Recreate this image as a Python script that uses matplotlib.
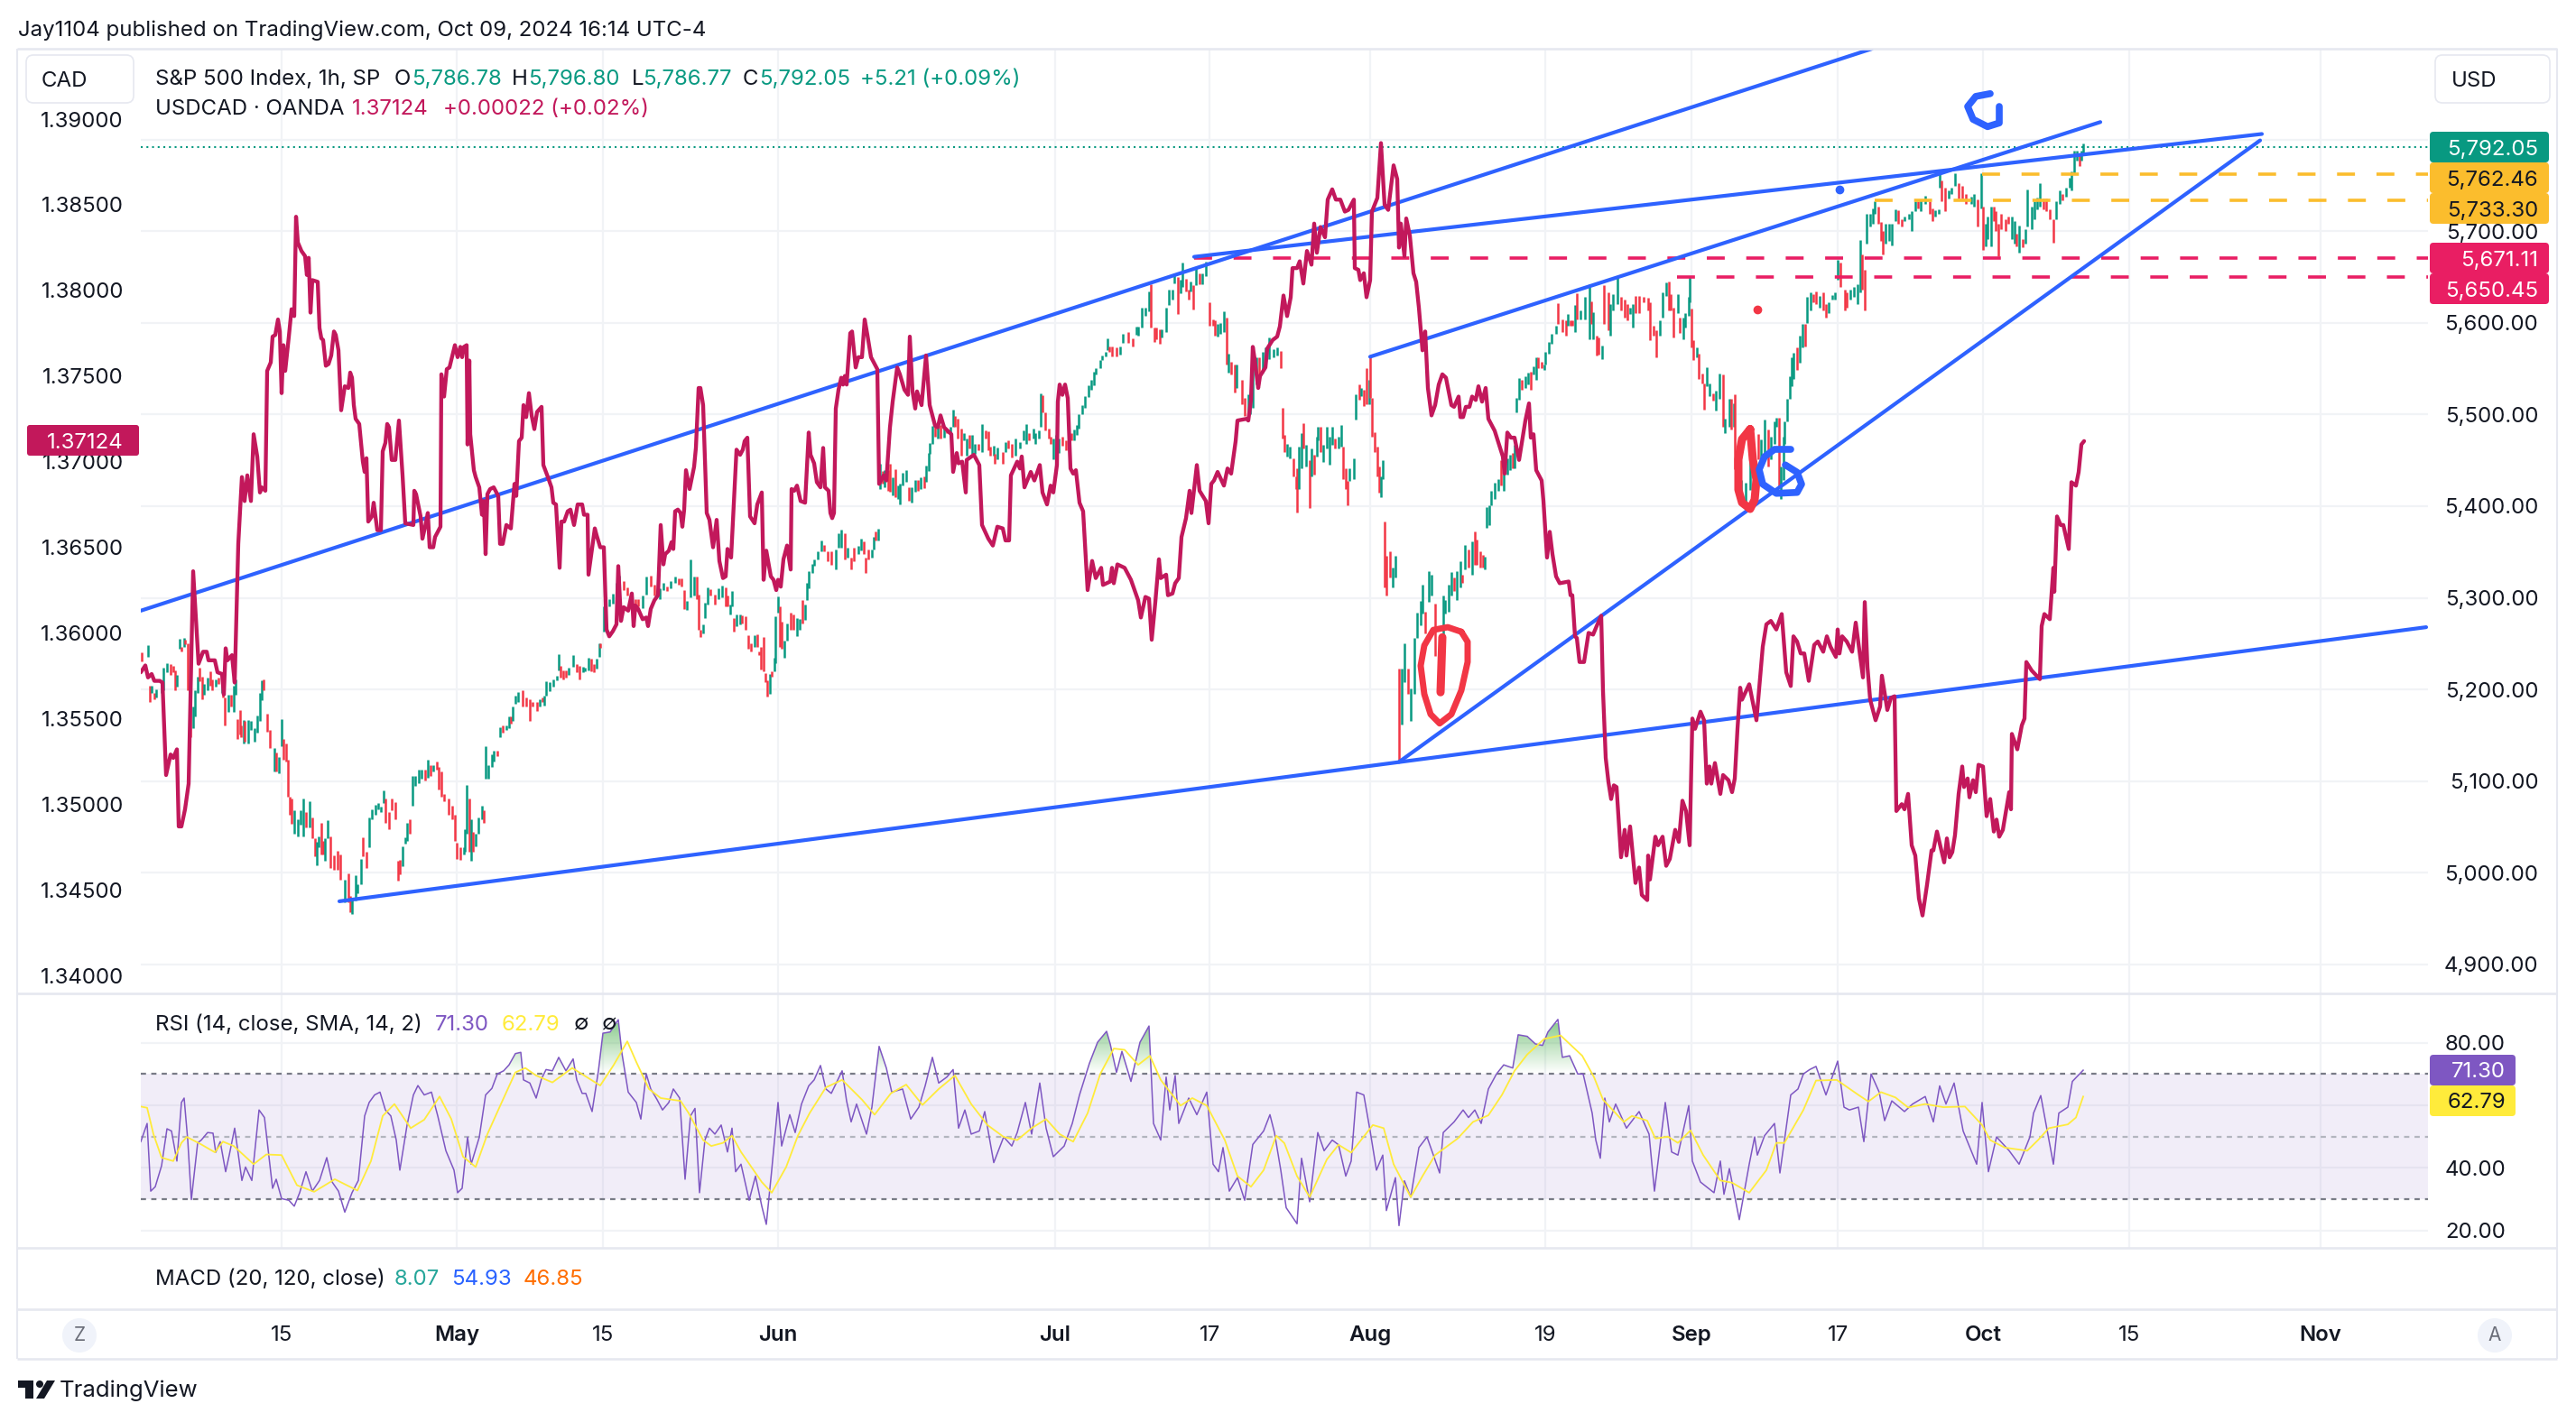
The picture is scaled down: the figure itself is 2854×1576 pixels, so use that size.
import numpy as np
import matplotlib
matplotlib.use("Agg")
import matplotlib.pyplot as plt
from matplotlib.colors import LinearSegmentedColormap
from matplotlib.patches import FancyBboxPatch, Rectangle, Polygon, Circle
from matplotlib.path import Path

plt.rcParams['font.family'] = ['Inter', 'DejaVu Sans']

W, H, DPI = 2854, 1576, 100

# ---------------- time scale: slots along the shared time axis ----------------
tick_slots = [312, 506, 668, 862, 1169, 1340, 1518, 1712, 1874, 2036, 2197, 2359, 2571]
tick_labels = ["15", "May", "15", "Jun", "Jul", "17", "Aug", "19", "Sep", "17", "Oct", "15", "Nov"]
month_labels = {"May", "Jun", "Jul", "Aug", "Sep", "Oct", "Nov"}

usd_ticks = [5800, 5700, 5600, 5500, 5400, 5300, 5200, 5100, 5000, 4900]
cad_ticks = [1.39, 1.385, 1.38, 1.375, 1.37, 1.365, 1.36, 1.355, 1.35, 1.345, 1.34]
rsi_grid = [80, 60, 40, 20]
rsi_labelled = [80, 40, 20]

# ---------------- S&P 500 candles (high, low, direction) ----------------
sp_slot = [
157,164,166,168,171,173,179,181,185,189,
192,194,196,199,201,204,205,208,211,214,
216,219,221,224,226,230,233,235,239,242,
246,247,249,253,256,259,261,263,266,267,
270,271,275,278,282,285,288,290,292,296,
299,304,306,309,312,314,317,319,321,323,
326,330,333,336,339,343,346,349,351,353,
356,358,360,363,366,370,374,377,382,386,
388,390,394,396,400,402,406,409,412,416,
419,422,425,427,431,434,438,441,443,446,
449,451,454,457,460,464,467,471,474,477,
480,484,486,489,492,497,501,504,506,510,
514,515,517,520,522,524,527,530,534,536,
538,541,545,547,551,554,557,561,564,566,
568,571,574,579,583,587,590,595,598,601,
603,605,609,613,617,619,621,624,627,630,
635,639,642,646,648,652,655,658,661,664,
665,669,671,675,679,683,686,691,695,699,
704,707,712,716,721,725,729,731,735,739,
743,748,752,755,758,761,765,769,772,774,
776,779,781,784,787,792,796,800,804,806,
809,811,813,816,820,822,826,829,832,836,
839,841,843,846,848,850,853,855,858,859,
862,864,866,869,872,876,879,883,886,889,
892,894,896,900,902,906,910,913,917,921,
926,929,932,936,939,943,946,951,954,957,
959,962,966,968,970,973,975,978,980,984,
986,989,992,995,997,1000,1004,1007,1010,1014,
1017,1020,1024,1026,1029,1030,1033,1036,1039,1042,
1046,1049,1053,1056,1058,1061,1065,1068,1071,1074,
1077,1080,1084,1088,1092,1095,1097,1101,1102,1105,
1111,1114,1117,1121,1125,1130,1134,1137,1140,1145,
1147,1151,1153,1155,1158,1162,1164,1167,1170,1173,
1177,1181,1184,1187,1190,1193,1195,1199,1202,1206,
1209,1212,1214,1219,1221,1225,1227,1229,1232,1237,
1241,1244,1250,1255,1259,1261,1265,1269,1273,1275,
1279,1281,1285,1287,1292,1295,1299,1301,1305,1308,
1310,1314,1317,1319,1322,1325,1329,1332,1336,1340,
1344,1346,1349,1352,1356,1359,1361,1364,1368,1370,
1376,1379,1383,1385,1388,1392,1395,1399,1402,1406,
1411,1415,1419,1421,1423,1426,1429,1433,1436,1437,
1439,1442,1444,1447,1451,1453,1456,1459,1460,1463,
1466,1470,1473,1476,1479,1483,1486,1488,1491,1493,
1495,1500,1502,1506,1508,1511,1514,1517,1518,1520,
1523,1526,1528,1530,1532,1534,1536,1540,1543,1546,
1550,1553,1556,1560,1563,1567,1570,1574,1576,1579,
1583,1586,1590,1594,1597,1599,1601,1605,1608,1611,
1614,1618,1620,1623,1627,1631,1634,1636,1640,1643,
1645,1647,1650,1652,1656,1660,1663,1666,1670,1673,
1676,1678,1680,1683,1686,1690,1693,1696,1699,1702,
1704,1708,1711,1712,1716,1719,1724,1726,1731,1735,
1737,1740,1742,1745,1747,1751,1756,1761,1763,1765,
1769,1771,1775,1777,1782,1784,1787,1792,1796,1800,
1803,1806,1809,1812,1816,1821,1826,1828,1832,1835,
1839,1842,1846,1849,1851,1854,1859,1861,1865,1867,
1871,1872,1874,1876,1880,1882,1886,1888,1891,1894,
1898,1901,1905,1909,1911,1916,1918,1921,1922,1926,
1929,1934,1939,1942,1948,1951,1955,1959,1962,1966,
1968,1971,1973,1976,1977,1980,1983,1985,1987,1991,
1994,1997,2000,2002,2006,2009,2012,2016,2020,2023,
2026,2030,2033,2036,2039,2044,2046,2050,2054,2058,
2061,2063,2066,2068,2072,2075,2077,2081,2084,2086,
2089,2093,2096,2100,2103,2107,2110,2115,2118,2122,
2125,2128,2133,2138,2141,2144,2148,2149,2151,2155,
2159,2162,2166,2170,2174,2178,2184,2187,2191,2195,
2197,2200,2202,2206,2209,2211,2214,2217,2222,2225,
2229,2232,2234,2237,2241,2244,2246,2251,2254,2257,
2260,2264,2267,2271,2275,2278,2282,2285,2289,2293,
2295,2298,2301,2304,2306,2308]
sp_high = [
5241,5248,5204,5204,5196,5200,5206,5224,5229,5228,
5226,5221,5216,5255,5246,5256,5254,5250,5199,5181,
5199,5214,5224,5214,5206,5213,5220,5211,5211,5213,
5211,5196,5191,5194,5194,5204,5211,5168,5178,5161,
5167,5166,5167,5166,5158,5172,5196,5210,5211,5174,
5156,5136,5131,5126,5168,5146,5141,5123,5083,5081,
5068,5058,5068,5081,5066,5078,5060,5038,5034,5040,
5055,5035,5038,5057,5040,5019,5024,5020,4993,4999,
4975,4973,4997,4988,5015,5039,5023,5060,5069,5074,
5076,5072,5090,5081,5066,5081,5077,5013,5014,5029,
5039,5055,5058,5106,5106,5113,5113,5113,5123,5118,
5118,5121,5116,5111,5086,5081,5073,5063,5033,5028,
5028,5048,5096,5081,5058,5045,5043,5060,5073,5068,
5138,5118,5129,5133,5133,5159,5161,5161,5171,5171,
5181,5193,5197,5199,5191,5189,5186,5186,5189,5191,
5193,5209,5208,5211,5215,5239,5226,5221,5221,5224,
5238,5228,5226,5225,5224,5235,5234,5228,5234,5250,
5250,5291,5291,5299,5305,5316,5324,5318,5311,5305,
5299,5299,5303,5323,5324,5314,5314,5310,5316,5312,
5318,5323,5321,5321,5308,5297,5342,5323,5323,5304,
5265,5271,5295,5311,5309,5304,5310,5313,5311,5303,
5293,5307,5278,5282,5282,5281,5280,5259,5250,5259,
5260,5242,5246,5257,5218,5210,5217,5220,5235,5280,
5302,5291,5274,5253,5272,5284,5282,5278,5277,5298,
5293,5316,5329,5337,5342,5351,5363,5358,5351,5351,
5353,5370,5374,5370,5355,5344,5355,5357,5365,5362,
5344,5353,5353,5367,5372,5375,5446,5438,5439,5439,
5446,5431,5440,5423,5425,5436,5439,5421,5421,5429,
5429,5431,5432,5444,5458,5469,5488,5487,5487,5489,
5485,5485,5487,5505,5498,5495,5485,5480,5474,5478,
5478,5468,5468,5490,5483,5482,5465,5466,5457,5464,
5459,5470,5472,5468,5474,5470,5483,5490,5480,5485,
5480,5483,5523,5521,5502,5485,5476,5474,5478,5474,
5476,5472,5480,5480,5484,5489,5500,5510,5520,5532,
5538,5547,5551,5559,5564,5568,5583,5574,5574,5573,
5574,5588,5590,5583,5596,5596,5617,5617,5634,5642,
5595,5595,5593,5593,5617,5636,5636,5654,5650,5647,
5666,5648,5636,5645,5641,5660,5654,5654,5667,5622,
5604,5603,5599,5600,5613,5606,5566,5557,5555,5555,
5538,5518,5522,5520,5564,5562,5562,5568,5573,5584,
5571,5573,5569,5507,5478,5468,5465,5452,5432,5441,
5465,5480,5491,5467,5450,5463,5456,5476,5487,5487,
5467,5487,5476,5487,5474,5476,5489,5465,5441,5428,
5441,5452,5522,5533,5529,5527,5551,5538,5564,5518,
5481,5465,5443,5432,5450,5383,5346,5351,5333,5346,
5223,5223,5250,5223,5201,5256,5284,5297,5314,5285,
5329,5325,5294,5234,5257,5303,5298,5314,5328,5322,
5329,5340,5325,5358,5353,5362,5372,5364,5351,5347,
5345,5399,5401,5417,5426,5430,5450,5445,5452,5456,
5458,5467,5518,5540,5538,5542,5546,5547,5553,5562,
5562,5557,5555,5568,5579,5588,5597,5621,5604,5603,
5610,5603,5603,5619,5632,5614,5628,5642,5623,5612,
5586,5584,5575,5641,5633,5620,5631,5650,5628,5625,
5620,5617,5620,5629,5629,5628,5627,5622,5597,5592,
5603,5633,5644,5645,5631,5617,5631,5606,5606,5611,
5628,5650,5616,5581,5573,5566,5545,5534,5552,5534,
5523,5526,5545,5544,5495,5517,5517,5512,5522,5462,
5429,5426,5457,5476,5479,5473,5494,5484,5476,5493,
5496,5496,5443,5476,5493,5517,5542,5562,5567,5573,
5586,5599,5599,5628,5633,5631,5634,5629,5633,5620,
5622,5630,5633,5669,5666,5636,5633,5636,5639,5642,
5690,5675,5658,5719,5719,5725,5733,5727,5710,5700,
5708,5708,5708,5724,5723,5713,5716,5719,5722,5733,
5733,5735,5739,5733,5725,5723,5724,5765,5755,5747,
5744,5747,5763,5752,5749,5741,5738,5741,5735,5763,
5727,5708,5716,5727,5727,5722,5708,5719,5713,5716,
5716,5711,5697,5706,5691,5702,5745,5727,5733,5737,
5752,5736,5736,5724,5713,5733,5744,5741,5747,5758,
5765,5788,5788,5784,5788,5796]
sp_low = [
5231,5236,5186,5196,5189,5191,5196,5199,5219,5216,
5219,5199,5203,5244,5242,5246,5249,5199,5148,5158,
5171,5196,5209,5189,5194,5199,5204,5199,5203,5206,
5196,5191,5161,5176,5181,5176,5194,5146,5151,5148,
5141,5143,5141,5156,5143,5153,5166,5188,5199,5154,
5136,5111,5111,5109,5138,5123,5121,5083,5063,5054,
5043,5040,5053,5040,5050,5050,5038,5018,5008,5028,
5020,5020,5013,5038,5005,5003,5003,4993,4968,4968,
4957,4955,4970,4978,4988,5018,5005,5028,5058,5063,
5069,5066,5076,5055,5048,5068,5058,4992,4998,5007,
5032,5035,5043,5073,5095,5098,5103,5101,5104,5106,
5111,5113,5091,5083,5078,5063,5058,5035,5015,5014,
5020,5023,5043,5023,5013,5023,5029,5043,5058,5055,
5103,5103,5116,5121,5127,5148,5153,5156,5158,5163,
5166,5184,5186,5181,5181,5166,5181,5177,5181,5186,
5182,5193,5198,5203,5210,5221,5213,5211,5213,5216,
5225,5219,5211,5219,5220,5221,5220,5219,5223,5236,
5245,5263,5274,5291,5294,5304,5304,5308,5303,5288,
5286,5291,5289,5304,5312,5303,5308,5299,5308,5307,
5310,5316,5314,5312,5288,5287,5301,5303,5299,5265,
5257,5261,5278,5293,5303,5293,5299,5301,5291,5291,
5282,5291,5263,5269,5271,5272,5265,5244,5242,5246,
5246,5238,5222,5220,5208,5192,5195,5214,5220,5229,
5284,5246,5244,5235,5253,5265,5265,5258,5265,5272,
5276,5298,5310,5327,5335,5342,5351,5351,5340,5336,
5331,5355,5355,5342,5344,5331,5340,5348,5352,5348,
5327,5342,5344,5353,5363,5363,5419,5425,5421,5417,
5416,5412,5410,5408,5402,5423,5427,5406,5404,5416,
5417,5419,5420,5427,5438,5457,5468,5476,5474,5474,
5475,5480,5480,5487,5487,5474,5455,5472,5455,5463,
5457,5457,5461,5459,5474,5461,5455,5455,5446,5451,
5446,5459,5463,5453,5455,5463,5472,5468,5472,5474,
5468,5474,5487,5502,5483,5474,5468,5451,5448,5458,
5466,5461,5463,5472,5472,5478,5485,5500,5507,5519,
5527,5532,5544,5551,5559,5563,5570,5568,5563,5563,
5565,5578,5578,5574,5587,5586,5595,5608,5613,5595,
5579,5582,5577,5584,5590,5619,5625,5643,5610,5632,
5639,5634,5625,5634,5615,5641,5642,5642,5651,5597,
5597,5586,5585,5588,5590,5555,5546,5544,5524,5529,
5511,5498,5498,5500,5507,5533,5538,5546,5555,5560,
5562,5564,5551,5474,5459,5454,5452,5432,5419,5393,
5419,5441,5463,5443,5398,5432,5434,5454,5472,5459,
5448,5463,5445,5467,5463,5463,5465,5430,5419,5401,
5428,5430,5494,5516,5520,5509,5511,5511,5518,5476,
5459,5432,5415,5410,5430,5311,5303,5322,5311,5322,
5122,5162,5208,5195,5166,5195,5256,5270,5283,5261,
5296,5303,5237,5210,5195,5248,5283,5285,5303,5307,
5298,5311,5316,5331,5333,5325,5336,5336,5333,5333,
5331,5376,5379,5401,5408,5417,5423,5417,5434,5439,
5441,5441,5502,5516,5527,5529,5533,5527,5544,5538,
5551,5551,5549,5555,5566,5577,5588,5599,5590,5586,
5597,5597,5597,5590,5604,5604,5604,5582,5599,5582,
5564,5565,5560,5599,5592,5586,5614,5620,5614,5606,
5603,5610,5595,5611,5611,5622,5614,5581,5586,5562,
5586,5606,5629,5614,5614,5584,5611,5589,5582,5595,
5608,5622,5573,5559,5562,5539,5534,5505,5531,5520,
5515,5504,5517,5487,5480,5487,5484,5487,5440,5418,
5404,5404,5418,5446,5451,5451,5457,5443,5451,5468,
5487,5421,5408,5429,5468,5493,5517,5531,5539,5549,
5556,5573,5574,5600,5614,5622,5620,5617,5614,5606,
5611,5625,5625,5647,5639,5614,5617,5625,5628,5620,
5633,5636,5614,5686,5705,5708,5719,5708,5689,5675,
5686,5689,5684,5711,5708,5705,5711,5713,5700,5722,
5725,5722,5730,5719,5711,5716,5719,5747,5733,5722,
5736,5741,5749,5736,5736,5730,5730,5727,5705,5725,
5680,5683,5691,5683,5711,5700,5673,5702,5700,5708,
5691,5686,5683,5677,5682,5686,5705,5702,5713,5724,
5727,5724,5722,5713,5687,5713,5730,5734,5738,5747,
5744,5763,5777,5771,5777,5783]
sp_dir = ("RGRGRGGGGR RRGGRGRRRG GGRRGGRRGR GRRGRGGRRR GRGGGGGGRR RGRGGRRRRR GGGGRGRRGG "
          "RRGGRRRRGR RGGGGRRGGG GGGRRRRRRG GGRGGGGRGR GRRRRRRRRR GGGRGRGGGR GGGGRGRGGR "
          "GGGRRRRRGR GGGGGGRRRG GRRGGGRRGG RGGGGGGRRR RRGGRRGGGR GGRRRGGGRR RGGGRRGGRR "
          "GGRGGRRRRG RRRRRRGRGG GRRGGRRGGR GGGGGGGRRR GGGRGRRGGR RRGGRGGRGR RGRGGGGRGG "
          "RGRGGGGRGR GRGGRRRGGR GGRGRRRGRG RGRRGGGGRG GGGRRRRGGG RRGRGGGGGG GGGGGGGRRR "
          "GGRRGGGGGR RRRGGGGGRG GRRGRGRGGR RRGGGRGRRG RRGGGGRGGG GGRRRGGRRR GGRGRGRGGR "
          "GGGGRGGRRR GGGRGRRGRR RRRGGRRRGG RGGRGGGGGR GGRGRGGGGR GGRGRGRRRR GGGGGGRGGG "
          "RGGGRGGRGG RRGGGGGRRR GRRGRGGGRG RRGRRGGGRR RGGRRRRRRR GGGRRRGRGG GGRRGRRRGG "
          "RGGRGGRGRR GGGGRGGRGG GRGGGGGGGR GGRGGRRGRR GGGGRRRGGG GRRGGGGRRR GGGGRRGGGG "
          "RGGRRGGGRR GGGRRRGGRG RGGGRRRRRR GGRGRGGGGG GRRRRGGRGG GGGRGG").replace(" ", "")

# ---------------- USD/CAD close, in pips (1/10000 of a CAD) ----------------
usdcad_slot = [
156,161,164,168,171,177,180,184,189,192,196,198,201,205,209,214,220,225,229,231,238,241,246,248,250,252,257,260,264,268,
271,274,278,281,285,288,290,294,296,300,302,305,308,310,312,314,316,320,323,326,328,330,334,338,340,342,344,346,352,354,
356,358,361,364,367,370,372,375,378,382,386,388,390,392,394,398,402,404,406,408,412,414,418,422,424,427,429,431,434,438,
442,446,449,458,459,461,466,468,471,474,476,480,482,488,489,492,495,498,504,507,510,512,514,517,518,520,521,525,527,531,
534,536,538,540,543,547,552,554,557,561,566,569,570,572,575,578,580,583,586,589,592,595,600,602,607,611,613,616,620,622,
625,629,632,636,640,645,647,651,652,659,661,665,669,672,675,679,683,685,688,691,696,700,702,704,707,712,716,718,721,725,
729,732,735,737,741,744,746,748,751,754,756,758,760,764,769,771,774,776,779,783,786,790,794,797,801,804,806,810,816,820,
823,825,828,831,836,839,844,846,849,854,857,860,862,865,868,872,876,877,880,883,887,892,896,898,902,905,909,912,914,918,
920,922,924,926,929,932,934,936,938,942,944,948,951,955,958,961,965,968,972,974,979,982,986,989,994,997,1002,1006,1008,1011,
1014,1016,1021,1026,1030,1036,1039,1042,1046,1054,1056,1060,1062,1066,1070,1071,1079,1085,1088,1095,1100,1105,1111,1114,1118,1120,1127,1130,1132,1135,
1142,1146,1152,1155,1160,1164,1167,1171,1172,1174,1177,1180,1183,1186,1189,1192,1196,1200,1203,1205,1210,1214,1220,1222,1230,1232,1234,1238,1246,1253,
1261,1264,1269,1273,1276,1280,1284,1286,1292,1294,1299,1302,1306,1309,1314,1318,1320,1326,1329,1336,1339,1342,1345,1349,1356,1360,1364,1369,1371,1381,
1383,1386,1388,1390,1394,1396,1402,1404,1410,1415,1418,1422,1426,1430,1432,1437,1440,1444,1448,1453,1456,1459,1463,1468,1471,1476,1480,1485,1490,1494,
1500,1501,1505,1507,1511,1514,1518,1520,1526,1530,1534,1538,1544,1548,1550,1552,1556,1558,1562,1566,1569,1572,1576,1579,1582,1586,1590,1594,1598,1602,
1608,1611,1616,1618,1621,1624,1628,1631,1635,1638,1642,1646,1649,1656,1665,1667,1670,1674,1678,1683,1690,1694,1696,1699,1702,1708,1710,1714,1717,1720,
1724,1728,1738,1740,1742,1745,1747,1750,1755,1760,1765,1769,1774,1776,1779,1782,1785,1788,1791,1796,1800,1802,1806,1812,1816,1819,1825,1826,1828,1834,
1837,1842,1846,1850,1856,1860,1864,1868,1872,1875,1878,1884,1888,1891,1894,1896,1900,1906,1909,1915,1919,1922,1925,1928,1930,1938,1941,1946,1953,1957,
1962,1968,1974,1979,1984,1987,1991,1995,1999,2004,2010,2014,2020,2024,2028,2034,2036,2038,2041,2046,2052,2056,2060,2064,2066,2069,2072,2078,2083,2085,
2091,2095,2099,2101,2107,2110,2114,2118,2122,2126,2130,2135,2140,2142,2146,2154,2157,2160,2163,2166,2170,2174,2176,2180,2182,2186,2189,2192,2197,2201,
2205,2209,2212,2215,2219,2226,2228,2229,2235,2240,2243,2245,2251,2260,2262,2265,2271,2275,2276,2279,2283,2286,2292,2295,2300,2303,2306,2309]
usdcad_pips = [
13577,13581,13574,13576,13572,13572,13571,13517,13529,13527,13532,13487,13487,13497,13512,13636,13582,13589,13589,13584,13584,13577,13576,13564,13591,13584,13587,13571,13652,13691,
13677,13692,13677,13716,13703,13682,13685,13683,13753,13758,13773,13774,13783,13776,13740,13768,13753,13773,13789,13785,13843,13828,13823,13820,13809,13819,13787,13806,13805,13778,
13772,13771,13756,13757,13762,13776,13774,13765,13730,13744,13743,13752,13749,13733,13725,13722,13700,13694,13702,13665,13668,13676,13660,13660,13706,13711,13722,13720,13701,13701,
13724,13692,13664,13663,13683,13681,13668,13655,13662,13670,13650,13650,13656,13662,13751,13738,13754,13755,13768,13761,13767,13761,13767,13768,13710,13759,13716,13695,13691,13685,
13669,13677,13646,13681,13684,13685,13680,13652,13652,13663,13661,13681,13687,13680,13712,13714,13733,13726,13740,13727,13719,13729,13732,13698,13691,13685,13676,13675,13638,13665,
13665,13671,13672,13663,13675,13675,13669,13669,13634,13661,13657,13650,13650,13602,13598,13601,13605,13639,13607,13615,13613,13623,13604,13616,13614,13608,13609,13604,13614,13619,
13622,13663,13640,13646,13648,13653,13649,13671,13672,13670,13662,13672,13695,13684,13697,13708,13743,13743,13733,13670,13666,13650,13666,13642,13632,13633,13649,13644,13707,13704,
13707,13712,13714,13668,13664,13675,13682,13631,13648,13633,13631,13625,13631,13627,13643,13651,13637,13684,13683,13686,13677,13676,13717,13704,13699,13688,13685,13708,13685,13683,
13670,13667,13670,13731,13742,13749,13745,13750,13745,13775,13776,13755,13761,13761,13783,13774,13761,13758,13754,13687,13692,13689,13720,13735,13755,13751,13742,13739,13773,13741,
13731,13741,13733,13762,13733,13721,13720,13727,13720,13716,13694,13705,13699,13700,13682,13701,13704,13698,13663,13655,13651,13662,13661,13654,13654,13692,13700,13696,13703,13685,
13694,13689,13698,13682,13675,13686,13682,13698,13735,13745,13739,13745,13737,13696,13693,13695,13676,13671,13644,13625,13642,13632,13638,13628,13630,13638,13629,13640,13638,13631,
13619,13609,13621,13620,13596,13618,13643,13632,13634,13622,13623,13629,13632,13656,13667,13683,13670,13698,13683,13677,13664,13687,13689,13694,13686,13696,13693,13712,13724,13725,
13724,13736,13767,13760,13743,13750,13755,13766,13771,13773,13779,13797,13785,13796,13813,13813,13817,13804,13823,13815,13839,13822,13837,13831,13853,13859,13853,13853,13846,13847,
13853,13813,13812,13806,13810,13796,13806,13846,13854,13886,13850,13847,13873,13865,13825,13839,13820,13842,13832,13810,13805,13790,13765,13776,13743,13727,13733,13745,13751,13749,
13733,13732,13738,13726,13726,13732,13732,13738,13736,13744,13735,13743,13725,13718,13703,13693,13717,13714,13714,13701,13724,13734,13714,13716,13695,13689,13677,13644,13659,13646,
13633,13629,13630,13622,13622,13598,13597,13583,13583,13600,13599,13604,13610,13566,13527,13513,13503,13511,13510,13469,13485,13470,13487,13454,13463,13447,13444,13470,13456,13481,
13476,13481,13464,13468,13485,13478,13502,13496,13476,13550,13544,13554,13549,13512,13522,13512,13524,13506,13517,13514,13507,13515,13544,13568,13561,13570,13562,13549,13592,13605,
13607,13602,13611,13577,13569,13598,13595,13588,13588,13572,13593,13595,13589,13598,13592,13586,13602,13588,13598,13595,13589,13606,13590,13574,13618,13580,13561,13549,13557,13575,
13555,13562,13563,13496,13500,13497,13506,13476,13470,13445,13435,13453,13473,13473,13484,13466,13480,13469,13472,13482,13506,13522,13510,13515,13504,13514,13507,13523,13522,13493,
13503,13484,13491,13481,13485,13507,13497,13541,13532,13546,13550,13583,13578,13573,13604,13611,13608,13638,13624,13668,13663,13663,13649,13688,13686,13694,13710,13712]

# ---------------- RSI(14) and its 14-period SMA ----------------
rsi_slot = [
156,163,167,172,179,185,190,196,201,204,208,212,219,223,230,236,239,244,250,254,260,268,272,279,287,293,302,306,312,320,
326,332,339,346,354,362,368,375,382,390,397,404,409,415,421,427,433,439,443,451,458,463,470,478,485,494,503,507,512,518,
522,531,538,545,551,558,564,571,577,580,587,594,600,605,612,619,627,635,639,645,649,656,663,668,676,685,689,696,705,710,
716,721,728,734,741,746,753,759,765,770,775,781,786,792,799,806,811,815,821,830,837,844,849,855,862,866,875,881,888,896,
902,909,915,921,933,938,943,949,960,966,974,982,988,1000,1009,1018,1025,1033,1040,1049,1056,1062,1069,1076,1085,1091,1101,1112,1121,1127,
1136,1143,1152,1159,1167,1179,1188,1196,1207,1216,1226,1230,1237,1243,1253,1263,1273,1278,1286,1292,1296,1302,1306,1317,1326,1337,1344,1350,1355,1362,
1371,1379,1388,1400,1407,1412,1419,1425,1437,1442,1451,1460,1467,1476,1483,1491,1497,1503,1511,1518,1525,1532,1536,1546,1550,1556,1563,1572,1581,1595,
1599,1611,1621,1627,1634,1641,1649,1658,1666,1676,1682,1692,1701,1709,1715,1726,1731,1739,1748,1754,1764,1768,1773,1778,1783,1790,1802,1816,1827,1833,
1845,1852,1859,1871,1875,1884,1899,1906,1910,1916,1927,1938,1944,1947,1955,1966,1972,1984,1992,1998,2005,2012,2023,2036,2043,2049,2059,2065,2073,2082,
2088,2096,2110,2119,2133,2142,2149,2156,2165,2175,2190,2196,2203,2212,2226,2237,2249,2253,2261,2267,2275,2281,2291,2296,2308]
rsi_values = [
48.4,54.2,32.6,34,40.7,52.5,51.8,42.2,60.9,62.3,48.9,29.9,48,48.9,51.3,51.1,45,48.4,38.8,44.1,52.7,36,40.3,36,58.5,56.1,33.5,36.4,30.2,29.7,
27.8,32.1,38.8,32.6,36,43.3,35.5,32.6,25.9,32.1,36,56.6,60.9,63.3,64.2,58.5,56.6,48.9,39.3,53.7,63.3,66.3,63.3,64.2,56.6,45.5,39.3,32.1,33.5,49.8,
41.2,49.8,63.3,65.4,70,71,72.9,76.5,76.9,68.1,67.1,62.3,68.5,71.4,71,75.3,71,74.8,68.1,63.8,63.8,58,71,83,83.4,87.3,76.7,64.2,60.9,55.6,
70,65.2,61.8,58.5,60.9,65.2,62.3,36.4,56.6,59,32.1,48.9,52.7,50.8,53.7,45.1,52.7,38.8,41.2,29.7,37.4,27.8,22,39.3,60.9,47,57,51.3,60.4,66.2,
68.1,72.7,65.2,63.8,71,61.3,54.7,60.4,50.8,59.4,78.8,71.9,64.2,65.2,55.6,59.4,66.2,75.3,67.1,69,71.4,52.7,58.5,50.8,51.8,58,41.7,49.9,47,51.3,
60.9,50.8,67.1,52.7,43.6,47,54.2,63.3,73.4,80.1,83.6,79.6,70.5,77.2,67.6,80.1,85.3,54.2,48.9,69,58.5,69.5,54.2,62.3,57,64.2,41.2,38.8,46.5,32.6,
36.9,29.7,47.5,51.8,57,51.3,39.3,27.3,22.2,43.1,29.2,51.3,45.5,48.9,47.4,37.4,42.2,64.2,63.3,51.8,39.3,44.1,26.4,36.9,21.6,35.9,30.7,46.5,49.9,38.4,
51.3,54.7,58.5,56.1,58.5,54.2,65.2,70,72.9,71.9,82.5,82,79.6,79.1,83.4,87.4,75.3,75.8,70,70,57.5,48.9,43.1,62.3,54.7,60.4,52.7,58,50.8,32.6,
60.9,45.1,44.1,59.9,42.2,35.5,32.1,42.2,31.6,39.8,23.5,41.2,49.9,44.1,50.3,54.2,38.4,63.3,65.2,70,71.4,72.4,63.3,74.1,59.4,58.5,59.4,48.4,70,64.2,
55.1,61.4,58,60.4,62.8,54.7,66.2,60.4,67.1,51.8,41.2,60.9,38.8,49.9,45.5,41.2,49.9,57.5,63.1,53.7,41.2,57.5,59.4,67.6,71.2]
rsi_ma_slot = [
156,163,170,179,192,201,207,223,238,247,259,281,295,312,329,348,371,396,411,424,437,455,470,487,500,513,527,540,555,571,
582,594,612,634,665,680,695,705,719,732,754,763,779,788,801,811,821,844,855,871,884,897,915,933,955,969,987,1004,1022,1040,
1058,1076,1094,1112,1127,1143,1159,1174,1189,1205,1219,1234,1246,1261,1274,1286,1308,1321,1337,1357,1371,1386,1400,1414,1423,1437,1451,1470,1483,1497,
1521,1533,1544,1558,1563,1576,1590,1615,1632,1649,1664,1678,1692,1711,1729,1753,1766,1776,1799,1808,1825,1834,1848,1859,1873,1887,1906,1919,1938,1957,
1968,1977,1998,2012,2035,2059,2070,2084,2100,2114,2133,2153,2177,2196,2205,2221,2246,2258,2270,2291,2300,2308]
rsi_ma_values = [
59.6,59.2,50.8,43.3,42.2,48,49.9,47.5,45,48.4,47,41.2,44.3,44.1,34.5,32.4,36.4,32.8,42.2,56.6,60.4,52.7,55.4,62.8,55.6,43.6,40.3,50.8,60.4,70.5,
71.9,69.5,67.3,71.9,66.3,72.9,80.4,73.8,65.2,62.3,61.4,57.5,48.9,47,48,50.3,45.1,35.5,32.1,40.3,50.3,57.5,65.7,68.1,61.8,57,63.8,66.6,60.1,65.2,
69.5,60.4,53.7,49.9,48.9,52.7,55.6,50.8,48.4,57.5,70,78.1,77.7,72.9,75.8,68.1,59.9,62.3,59.9,48.9,37.4,34,39.3,50.3,47.9,37.4,30.7,42.7,47.4,44.9,
53.7,52.7,41.2,33.5,30.7,37.4,44.1,49.4,54.7,56.8,63.3,71,76.2,81.2,82.3,75.8,69,61.8,54.7,56.6,55.1,49.4,50,48,52,44.1,36,35.3,32.1,39.3,
48,48,58.5,67.9,68.1,63.3,61.2,64.2,62.5,59.3,60.4,59.4,59.6,53.7,48.9,46.5,45.5,48.9,52.7,53.9,56.1,62.79]

# ---------------- drawings on the S&P pane (slot, USD) ----------------
trend_a_slot, trend_a_usd = [156, 2074], [5286, 5899]
trend_b_slot, trend_b_usd = [1323, 2506], [5672, 5806]
trend_c_slot, trend_c_usd = [1518, 2327], [5563, 5819]
trend_d_slot, trend_d_usd = [1550, 2504], [5121, 5799]
trend_e_slot, trend_e_usd = [376, 2688], [4969, 5268]
level_yellow_start, level_yellow_usd = [2196, 2077], [5762.46, 5733.30]
level_pink_start, level_pink_usd = [1323, 1858], [5671.11, 5650.45]
last_usd = 5792.05
last_cad = 1.37124
red_ring_slot = [1619,1604,1588,1578,1574,1578,1585,1595,1608,1619,1626,1626,1619]
red_ring_usd = [5263,5268,5265,5248,5226,5195,5173,5163,5173,5199,5230,5252,5263]
red_bar_slot, red_bar_usd = [1598, 1596], [5257, 5197]
red_oval_slot = [1939,1930,1926,1926,1930,1939,1944,1946,1942,1939]
red_oval_usd = [5484,5473,5451,5418,5404,5397,5407,5429,5451,5484]
blue_hook_slot = [1984,1966,1955,1949,1953,1968,1991,1996,1991,1978]
blue_hook_usd = [5462,5462,5454,5440,5424,5414,5415,5424,5437,5445]
blue_top_slot = [2205,2189,2180,2186,2202,2215,2215]
blue_top_usd = [5850,5847,5836,5822,5814,5818,5836]
dot_blue_slot, dot_blue_usd = [2038], [5745]
dot_red_slot, dot_red_usd = [1947], [5615]

# ---------------- colours ----------------
GREEN, RED, MAROON, BLUE = "#089981", "#f23645", "#c2185b", "#2e62ff"
YELLOW, PINK, PURPLE, RSI_MA = "#fbbd2d", "#e91e63", "#7e57c2", "#ffeb3b"
GRID, FRAME, INK, GREY = "#f1f3f6", "#e6e8f0", "#131722", "#4a4e59"
FS = 17.3


def px_axes(x0, y0, x1, y1, **kw):
    return fig.add_axes([x0 / W, 1 - y1 / H, (x1 - x0) / W, (y1 - y0) / H], **kw)


fig = plt.figure(figsize=(W / DPI, H / DPI), dpi=DPI, facecolor="white")
PL, PR = 156, 2690
YT, YM, YR, YC, YA = 54, 1101, 1383, 1451, 1506

# ---------- main pane ----------
ax = px_axes(PL, YT, PR, YM, zorder=1)
ax.set_xlim(PL, PR)
ax.set_ylim(4868.5, 5899)
ax.set_xticks(tick_slots)
ax.set_yticks(usd_ticks)
ax.set_yticklabels([f"{v:,.2f}" for v in usd_ticks])
ax.tick_params(axis="x", length=0, labelbottom=False)
ax.tick_params(axis="y", length=0, left=False, labelleft=False, right=False, labelright=True,
               pad=88, labelsize=FS, labelcolor=INK)
for t in ax.get_yticklabels():
    t.set_ha("right")
ax.grid(True, color=GRID, lw=1.6)
ax.set_axisbelow(True)
for s in ax.spines.values():
    s.set_visible(False)

n = min(len(sp_slot), len(sp_high), len(sp_low), len(sp_dir))
sp_colors = [GREEN if d == "G" else RED for d in sp_dir[:n]]
ax.vlines(sp_slot[:n], sp_low[:n], sp_high[:n], colors=sp_colors, lw=1.8, zorder=2)

ax.axhline(last_usd, color=GREEN, lw=1.5, ls=(0, (1, 2.0)), zorder=2)
for sl, v in zip(level_yellow_start, level_yellow_usd):
    ax.plot([sl, PR], [v, v], color=YELLOW, lw=2.6, ls=(0, (5.5, 6.6)), zorder=3)
for sl, v in zip(level_pink_start, level_pink_usd):
    ax.plot([sl, PR], [v, v], color=PINK, lw=2.6, ls=(0, (5.5, 6.6)), zorder=3)
for sx, sy in [(trend_a_slot, trend_a_usd), (trend_b_slot, trend_b_usd), (trend_c_slot, trend_c_usd),
               (trend_d_slot, trend_d_usd), (trend_e_slot, trend_e_usd)]:
    ax.plot(sx, sy, color=BLUE, lw=3.0, solid_capstyle="round", zorder=4)
for sx, sy, c, lw in [(red_ring_slot, red_ring_usd, RED, 5), (red_bar_slot, red_bar_usd, RED, 6.5),
                      (red_oval_slot, red_oval_usd, RED, 6.5), (blue_hook_slot, blue_hook_usd, BLUE, 5.5),
                      (blue_top_slot, blue_top_usd, BLUE, 5.5)]:
    ax.plot(sx, sy, color=c, lw=lw, solid_capstyle="round", solid_joinstyle="round", zorder=5)
ax.plot(dot_blue_slot, dot_blue_usd, "o", color=BLUE, ms=6, zorder=5)
ax.plot(dot_red_slot, dot_red_usd, "o", color=RED, ms=6, zorder=5)

# CAD scale shares the same slots, USD/CAD line on top
ax_cad = px_axes(PL, YT, PR, YM, zorder=2)
ax_cad.patch.set_alpha(0)
ax_cad.set_xlim(PL, PR)
ax_cad.set_ylim(1.33895, 1.39411)
ax_cad.set_xticks([])
ax_cad.set_yticks(cad_ticks)
ax_cad.set_yticklabels([f"{v:.5f}" for v in cad_ticks])
ax_cad.tick_params(axis="y", length=0, pad=13.7, labelsize=FS, labelcolor=INK)
for s in ax_cad.spines.values():
    s.set_visible(False)
ax_cad.plot(usdcad_slot, np.array(usdcad_pips) / 10000, color=MAROON, lw=3.1,
            solid_joinstyle="round", solid_capstyle="round")

# ---------- RSI pane ----------
ar = px_axes(PL, YM, PR, YR, zorder=1)
ar.set_xlim(PL, PR)
ar.set_ylim(14.5, 95.7)
ar.set_xticks(tick_slots)
ar.set_yticks(rsi_grid)
ar.set_yticklabels([f"{v:.2f}" if v in rsi_labelled else "" for v in rsi_grid])
ar.tick_params(axis="x", length=0, labelbottom=False)
ar.tick_params(axis="y", length=0, left=False, labelleft=False, labelright=True, pad=62,
               labelsize=FS, labelcolor=INK)
for t in ar.get_yticklabels():
    t.set_ha("right")
ar.grid(True, color=GRID, lw=1.6)
ar.set_axisbelow(True)
for s in ar.spines.values():
    s.set_visible(False)
ar.axhspan(30, 70, color=PURPLE, alpha=0.1, lw=0, zorder=1)
ar.axhline(70, color="#787b86", lw=1.6, ls=(0, (2.6, 2.6)), zorder=2)
ar.axhline(30, color="#787b86", lw=1.6, ls=(0, (2.6, 2.6)), zorder=2)
ar.axhline(50, color="#b2b5be", lw=1.6, ls=(0, (2.6, 2.6)), zorder=2)
rx, ry = np.array(rsi_slot, float), np.array(rsi_values, float)
poly = ar.fill_between(rx, 70, ry, where=ry > 70, interpolate=True, color="none", lw=0)
cmap = LinearSegmentedColormap.from_list("ob", [(0.30, 0.69, 0.31, 0.0), (0.30, 0.69, 0.31, 0.62)])
im = ar.imshow(np.linspace(1, 0, 64).reshape(-1, 1), extent=[PL, PR, 70, 86], aspect="auto", cmap=cmap, zorder=2.5)
im.set_clip_path(Path.make_compound_path(*poly.get_paths()), transform=ar.transData)
ar.set_xlim(PL, PR)
ar.set_ylim(14.5, 95.7)
ar.plot(rx, ry, color=PURPLE, lw=1.1, zorder=3)
ar.plot(rsi_ma_slot, rsi_ma_values, color=RSI_MA, lw=1.3, zorder=4)

# ---------- time axis ----------
at = px_axes(PL, YC, PR, 1466, zorder=1)
at.patch.set_alpha(0)
at.set_xlim(PL, PR)
at.set_yticks([])
at.set_xticks(tick_slots)
at.set_xticklabels(tick_labels)
at.tick_params(axis="x", length=0, pad=2, labelsize=FS)
for t in at.get_xticklabels():
    if t.get_text() in month_labels:
        t.set_fontweight("semibold")
    t.set_color(INK)
for s in at.spines.values():
    s.set_visible(False)

# ---------- chrome overlay in figure pixels ----------
c = fig.add_axes([0, 0, 1, 1], zorder=5)
c.set_xlim(0, W)
c.set_ylim(H, 0)
c.axis("off")
c.patch.set_alpha(0)


def txt(x, y, s, color=INK, ha="left", size=FS, weight="normal"):
    c.text(x, y + 2.5, s, color=color, ha=ha, va="center", fontsize=size, fontweight=weight)


def box(x0, y0, x1, y1, fc, rounding=5, ec="none", lw=0):
    c.add_patch(FancyBboxPatch((x0 + rounding, y0 + rounding), x1 - x0 - 2 * rounding, y1 - y0 - 2 * rounding,
                               boxstyle=f"round,pad={rounding},rounding_size={rounding}",
                               fc=fc, ec=ec, lw=lw))


for y in (YT, YM, YR, YC, YA):
    c.plot([19, 2833], [y, y], color=FRAME, lw=1.9, solid_capstyle="butt")
for x in (19, 2833):
    c.plot([x, x], [YT, YA], color=FRAME, lw=1.5, solid_capstyle="butt")

txt(20, 31, "Jay1104 published on TradingView.com, Oct 09, 2024 16:14 UTC-4")

box(29, 61, 148, 114, "white", 8, "#e6e8f0", 1.2)
txt(46, 87, "CAD")
box(2698, 61, 2825, 114, "white", 8, "#e6e8f0", 1.2)
txt(2716, 87, "USD")

for x, s, col in [(172, "S&P 500 Index, 1h, SP", INK), (437, "O", INK), (456, "5,786.78", GREEN),
                  (567, "H", INK), (585, "5,796.80", GREEN), (700, "L", INK), (712, "5,786.77", GREEN),
                  (823, "C", INK), (841, "5,792.05", GREEN), (953, "+5.21 (+0.09%)", GREEN)]:
    txt(x, 85, s, col)
for x, s, col in [(172, "USDCAD · OANDA", INK), (390, "1.37124", MAROON), (491, "+0.00022 (+0.02%)", MAROON)]:
    txt(x, 118, s, col)

for x, s, col in [(172, "RSI (14, close, SMA, 14, 2)", INK), (482, "71.30", PURPLE), (556, "62.79", RSI_MA),
                  (636, "∅", INK), (667, "∅", INK)]:
    txt(x, 1133, s, col)
for x, s, col in [(172, "MACD (20, 120, close)", INK), (437, "8.07", "#26a69a"), (500, "54.93", "#2962ff"),
                  (580, "46.85", "#ff6d00")]:
    txt(x, 1415, s, col)

box(30, 471, 154, 505, MAROON, 3)
txt(137, 488, "1.37124", "white", "right")
for y0, y1, fc, s, col in [(146, 180, GREEN, "5,792.05", "white"), (180, 214, YELLOW, "5,762.46", INK),
                           (214, 248, YELLOW, "5,733.30", INK), (269, 303, PINK, "5,671.11", "white"),
                           (303, 337, PINK, "5,650.45", "white")]:
    box(2692, y0, 2824, y1, fc, 4)
    txt(2812, (y0 + y1) / 2, s, col, "right")
box(2692, 1169, 2787, 1203, PURPLE, 4)
txt(2776, 1186, "71.30", "white", "right")
box(2692, 1203, 2787, 1237, RSI_MA, 4)
txt(2776, 1220, "62.79", INK, "right")

for x, s in [(88, "Z"), (2764, "A")]:
    c.add_patch(Circle((x, 1480), 19, fc="#f0f3fa", ec="none"))
    txt(x, 1478, s, "#6a6d78", "center", 15)

# TradingView mark and name
c.add_patch(Polygon([(20, 1530), (37, 1530), (37, 1550), (28, 1550), (28, 1538), (20, 1538)], fc=INK, ec="none"))
c.add_patch(Circle((44, 1534), 4, fc=INK, ec="none"))
c.add_patch(Polygon([(52, 1530), (61, 1530), (49, 1550), (40, 1550)], fc=INK, ec="none"))
txt(66, 1539, "TradingView", INK, "left", 18.5)

fig.savefig("out.png", dpi=DPI)
